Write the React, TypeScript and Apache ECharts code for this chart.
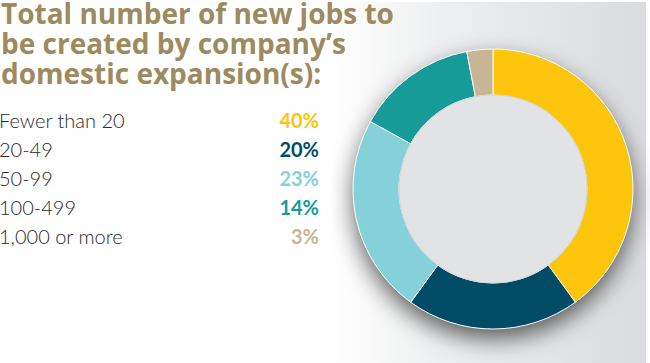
import React, { useEffect, useRef } from "react";
import * as echarts from "echarts";

const titleLines = [
  "Total number of new jobs to",
  "be created by company\u2019s",
  "domestic expansion(s):",
];
const categories = ["Fewer than 20", "20-49", "50-99", "100-499", "1,000 or more"];
const values = [40, 20, 23, 14, 3];
const colors = ["#fdc50c", "#004c66", "#85d1da", "#169b98", "#c8b594"];

export default function App() {
  const ref = useRef<HTMLDivElement>(null);
  useEffect(() => {
    document.body.style.margin = "0";
    const chart = echarts.init(ref.current!, null, { renderer: "svg" });
    const rich: any = {
      n: { width: 280, fontSize: 20, fontFamily: "Lato", fontWeight: 300, color: "#2a2a2a" },
    };
    colors.forEach((c, i) => {
      rich["p" + i] = {
        width: 40,
        align: "right",
        fontSize: 20,
        fontFamily: "Lato",
        fontWeight: "bold",
        color: c,
      };
    });
    chart.setOption({
      animation: false,
      backgroundColor: "#ffffff",
      graphic: [
        {
          type: "rect",
          z: -10,
          shape: { x: 330, y: 2, width: 316, height: 361 },
          style: {
            fill: new echarts.graphic.LinearGradient(0, 0, 1, 0, [
              { offset: 0, color: "#ffffff" },
              { offset: 0.35, color: "#eeeff0" },
              { offset: 1, color: "#dadbde" },
            ]),
          },
        },
      ],
      title: titleLines.map((t, i) => ({
        text: t,
        left: 0,
        top: -1 + i * 30,
        padding: [0, 0, 0, 1],
        textStyle: {
          fontFamily: "Open Sans",
          fontWeight: "bold",
          fontSize: 28,
          lineHeight: 28,
          color: "#9d8a5f",
        },
      })),
      legend: {
        orient: "vertical",
        left: -11,
        top: 103,
        icon: "none",
        itemWidth: 0,
        itemHeight: 0,
        itemGap: 5,
        selectedMode: false,
        data: categories,
        formatter: (name: string) => {
          const i = categories.indexOf(name);
          return `{n|${name}}{p${i}|${values[i]}%}`;
        },
        textStyle: { lineHeight: 24, rich },
      },
      series: [
        {
          type: "pie",
          silent: true,
          center: [493, 189],
          radius: [0, 139],
          z: 1,
          label: { show: false },
          itemStyle: {
            color: "#8a8a8a",
            shadowBlur: 24,
            shadowColor: "rgba(0,0,0,0.65)",
            shadowOffsetY: 10,
          },
          data: [{ value: 1, name: "shadow" }],
        },
        {
          type: "pie",
          center: [493, 189],
          radius: [94, 140],
          startAngle: 90,
          clockwise: true,
          z: 2,
          label: { show: false },
          labelLine: { show: false },
          itemStyle: { borderColor: "#ffffff", borderWidth: 1 },
          data: categories.map((c, i) => ({
            name: c,
            value: values[i],
            itemStyle: { color: colors[i] },
          })),
        },
        {
          type: "pie",
          silent: true,
          center: [493, 189],
          radius: [0, 94],
          z: 3,
          label: { show: false },
          itemStyle: { color: "#e2e3e5", borderColor: "#d2d3d6", borderWidth: 1 },
          data: [{ value: 1, name: "inner" }],
        },
      ],
    });
    return () => chart.dispose();
  }, []);
  return <div ref={ref} style={{ width: 650, height: 363 }} />;
}
